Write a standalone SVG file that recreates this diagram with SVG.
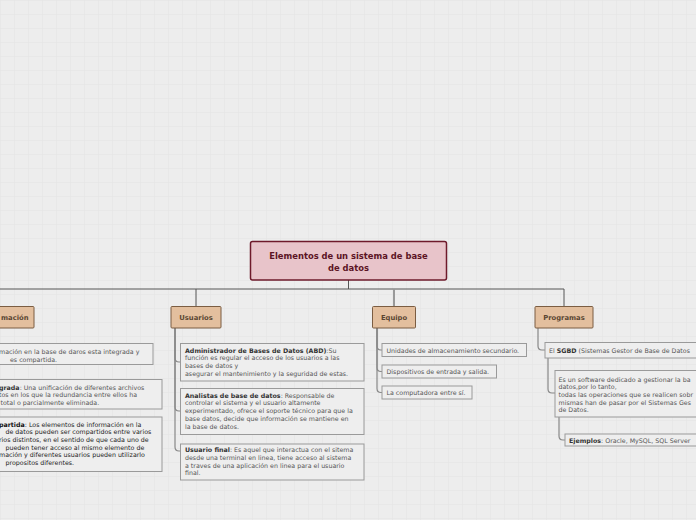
<svg xmlns="http://www.w3.org/2000/svg" width="696" height="520" viewBox="0 0 696 520">
<defs>
<pattern id="grid" width="14" height="14" patternUnits="userSpaceOnUse">
<path d="M14 0H0V14" fill="none" stroke="#e3e3e3" stroke-width="1"/>
</pattern>
<style>
.t{font-family:"DejaVu Sans",Verdana,sans-serif;font-size:6.3px;fill:#555}
.d{fill:#222}
.b{font-weight:bold;fill:#333}
.main{fill:#e3bf9e;stroke:#7b5d42;stroke-width:1}
.mt{font-family:"DejaVu Sans",Verdana,sans-serif;font-size:6.8px;font-weight:bold;fill:#5a4632;text-anchor:middle}
.leaf{fill:#eeeeee;stroke:#9a9a9a;stroke-width:1}
.ln{fill:none;stroke:#888;stroke-width:1.2}
.top{fill:none;stroke:#555;stroke-width:1}
</style>
</defs>
<rect width="696" height="520" fill="#ededed"/>
<rect width="696" height="520" fill="url(#grid)"/>

<g id="connectors">
<path class="top" d="M0,289 H564"/>
<path class="top" d="M348.5,280 V289"/>
<path class="top" d="M196,289 V306" stroke="#666"/>
<path d="M394,289 V306" fill="none" stroke="#999" stroke-width="2"/>
<path class="top" d="M564,289 V306"/>
<path class="ln" d="M175,328 V358 Q175,362 179,362 H181"/>
<path class="ln" d="M175,328 V407 Q175,411 179,411 H181"/>
<path class="ln" d="M175,328 V447 Q175,451 179,451 H181"/>
<path class="ln" d="M377,328 V346 Q377,350 381,350 H382"/>
<path class="ln" d="M377,328 V367.5 Q377,371.5 381,371.5 H382"/>
<path class="ln" d="M377,328 V388.5 Q377,392.5 381,392.5 H382"/>
<path class="ln" d="M538,328 V346 Q538,350 542,350 H545"/>
<path class="ln" d="M548,358 V389 Q548,393 552,393 H555"/>
<path class="ln" d="M559,417 V436 Q559,440 563,440 H565"/>
</g>

<g id="central">
<rect x="250.5" y="241.5" width="196" height="38.5" rx="2" fill="#e8c4ca" stroke="#6e1a2b" stroke-width="1.5"/>
<text x="348.5" y="259" font-family="DejaVu Sans,Verdana,sans-serif" font-size="8.4" font-weight="bold" fill="#5c1425" text-anchor="middle">Elementos de un sistema de base</text>
<text x="348.5" y="270.5" font-family="DejaVu Sans,Verdana,sans-serif" font-size="8.4" font-weight="bold" fill="#5c1425" text-anchor="middle">de datos</text>
</g>

<g id="informacion">
<rect class="main" x="-30" y="306.5" width="64" height="21.5" rx="1"/>
<text class="mt" x="1" y="320" style="text-anchor:start">mación</text>
</g>
<g id="info-1">
<rect class="leaf" x="-40" y="343.5" width="193" height="21"/>
<text class="t" x="-1" y="354">mación en la base de daros esta integrada y</text>
<text class="t" x="10" y="361.8">es compartida.</text>
</g>
<g id="info-2">
<rect class="leaf" x="-40" y="379.5" width="202" height="29.5"/>
<text class="t" x="-1" y="389.5"><tspan class="b">grada</tspan>: Una unificación de diferentes archivos</text>
<text class="t" x="-1" y="397.3">tos en los que la redundancia entre ellos ha</text>
<text class="t" x="0.5" y="405">total o parcialmente eliminada.</text>
</g>
<g id="info-3">
<rect class="leaf" x="-40" y="417" width="202" height="54.5"/>
<text class="t d" x="-1" y="426.5"><tspan class="b" style="fill:#111">partida</tspan>: Los elementos de información en la</text>
<text class="t d" x="5.5" y="434.2">de datos pueden ser compartidos entre varios</text>
<text class="t d" x="-1" y="441.9">rios distintos, en el sentido de que cada uno de</text>
<text class="t d" x="5.5" y="449.6">pueden tener acceso al mismo elemento de</text>
<text class="t d" x="-1" y="457.3">mación y diferentes usuarios pueden utilizarlo</text>
<text class="t d" x="5.5" y="465">propositos diferentes.</text>
</g>

<g id="usuarios">
<rect class="main" x="171" y="306.5" width="50" height="21.5" rx="1"/>
<text class="mt" x="196" y="320">Usuarios</text>
</g>
<g id="usuarios-1">
<rect class="leaf" x="180.5" y="343.5" width="183.5" height="37.5"/>
<text class="t" x="185" y="352.5"><tspan class="b">Administrador de Bases de Datos (ABD)</tspan>:Su</text>
<text class="t" x="185" y="360.3">función es regular el acceso de los usuarios a las</text>
<text class="t" x="185" y="368.1">bases de datos y</text>
<text class="t" x="185" y="375.9">asegurar el mantenimiento y la seguridad de estas.</text>
</g>
<g id="usuarios-2">
<rect class="leaf" x="180.5" y="388.5" width="183.5" height="46"/>
<text class="t" x="185" y="397.5"><tspan class="b">Analistas de base de datos</tspan>: Responsable de</text>
<text class="t" x="185" y="405.3">controlar el sistema y el usuario altamente</text>
<text class="t" x="185" y="413.1">experimentado, ofrece el soporte técnico para que la</text>
<text class="t" x="185" y="420.9">base datos, decide que información se mantiene en</text>
<text class="t" x="185" y="428.7">la base de datos.</text>
</g>
<g id="usuarios-3">
<rect class="leaf" x="180.5" y="444" width="183.5" height="36"/>
<text class="t" x="185" y="452"><tspan class="b">Usuario final</tspan>: Es aquel que interactua con el sitema</text>
<text class="t" x="185" y="459.8">desde una terminal en linea, tiene acceso al sistema</text>
<text class="t" x="185" y="467.6">a traves de una aplicación en linea para el usuario</text>
<text class="t" x="185" y="475.4">final.</text>
</g>

<g id="equipo">
<rect class="main" x="372.5" y="306.5" width="43" height="21.5" rx="1"/>
<text class="mt" x="394" y="320">Equipo</text>
</g>
<g id="equipo-1">
<rect class="leaf" x="382" y="343.5" width="144.5" height="13"/>
<text class="t" x="386.5" y="352.5">Unidades de almacenamiento secundario.</text>
</g>
<g id="equipo-2">
<rect class="leaf" x="382" y="365" width="114.5" height="13"/>
<text class="t" x="386.5" y="374">Dispositivos de entrada y salida.</text>
</g>
<g id="equipo-3">
<rect class="leaf" x="382" y="386" width="90" height="13"/>
<text class="t" x="386.5" y="395">La computadora entre sí.</text>
</g>

<g id="programas">
<rect class="main" x="535" y="306.5" width="58" height="21.5" rx="1"/>
<text class="mt" x="564" y="320">Programas</text>
</g>
<g id="programas-1">
<rect class="leaf" x="545" y="342.5" width="170" height="15.5"/>
<text class="t" x="549" y="352.5">El <tspan class="b">SGBD</tspan> (Sistemas Gestor de Base de Datos</text>
</g>
<g id="programas-2">
<rect class="leaf" x="555" y="370.5" width="160" height="46.5"/>
<text class="t" x="558.5" y="381.5">Es un software dedicado a gestionar la ba</text>
<text class="t" x="558.5" y="389.2">datos,por lo tanto,</text>
<text class="t" x="558.5" y="396.9">todas las operaciones que se realicen sobr</text>
<text class="t" x="558.5" y="404.6">mismas han de pasar por el Sistemas Ges</text>
<text class="t" x="558.5" y="412.3">de Datos.</text>
</g>
<g id="programas-3">
<rect class="leaf" x="565" y="434" width="150" height="12"/>
<text class="t" x="569" y="442.5"><tspan class="b">Ejemplos</tspan>: Oracle, MySQL, SQL Server</text>
</g>
</svg>
